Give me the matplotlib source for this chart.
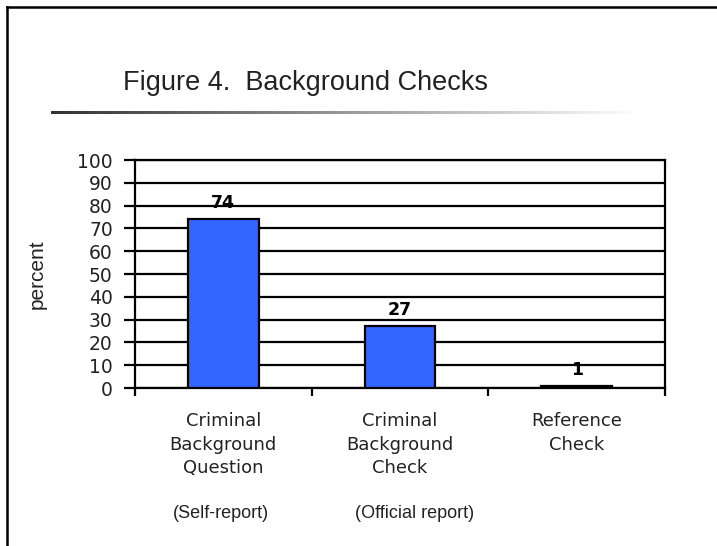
"""Figure 4 - background checks bar chart."""

import matplotlib
matplotlib.use("Agg")
import matplotlib.pyplot as plt
import numpy as np
from matplotlib.lines import Line2D

categories = ["Criminal\nBackground\nQuestion", "Criminal\nBackground\nCheck", "Reference\nCheck"]
sublabels = ["(Self-report)", "(Official report)", ""]
percent = [74, 27, 1]
yticks = list(range(0, 101, 10))

W, H = 717, 546
plt.rcParams["font.family"] = ["DejaVu Sans"]
NARROW = ["Liberation Sans", "DejaVu Sans"]

fig = plt.figure(figsize=(W / 100, H / 100), dpi=100)
ax = fig.add_axes([135 / W, 1 - 388 / H, 530 / W, 228 / H])

x = np.arange(len(categories))
ax.bar(x, percent, width=0.4, color="#3366ff", edgecolor="black", linewidth=1.6, zorder=3)
for xi, v in zip(x, percent):
    ax.annotate(str(v), (xi, v), xytext=(0, 8), textcoords="offset points",
                ha="center", va="baseline", fontsize=12.5, fontweight="bold")

ax.set_xlim(-0.5, len(categories) - 0.5)
ax.set_ylim(0, 100)
ax.set_yticks(yticks)
ax.yaxis.grid(True, color="black", linewidth=1.6, zorder=0)
ax.set_axisbelow(True)
ax.set_xticks(np.arange(-0.5, len(categories), 1.0))
ax.set_xticklabels([])
ax.tick_params(axis="x", direction="out", length=6, width=1.6)
ax.tick_params(axis="y", direction="out", length=8, width=1.6, labelsize=13.5, pad=8,
               labelcolor="#222222")
for side in ax.spines.values():
    side.set_linewidth(1.6)
ax.set_ylabel("percent", fontsize=15, family=NARROW, color="#222222")
ax.yaxis.set_label_coords((47 - 135) / 530, 0.5)

for xi, lab, sub, dx in zip(x, categories, sublabels, [-2, 15, 0]):
    ax.annotate(lab, (xi, 0), xycoords=("data", "axes fraction"), xytext=(0, -24),
                textcoords="offset pixels", ha="center", va="top",
                fontsize=13, linespacing=1.4, color="#222222")
    if sub:
        ax.annotate(sub, (xi, 0), xycoords=("data", "axes fraction"), xytext=(dx, -125),
                    textcoords="offset pixels", ha="center", va="center",
                    fontsize=13, family=NARROW, color="#222222")

fig.text(123 / W, 1 - 90 / H, "Figure 4.  Background Checks", fontsize=19.5,
         family=NARROW, ha="left", va="baseline", color="#222222")

# fading rule under the title
rule = fig.add_axes([51 / W, 1 - 114 / H, 1 - 51 / W, 3 / H])
rule.axis("off")
ramp = np.clip(np.linspace(0.2, 1.1, 512), 0, 1)[None, :]
rule.imshow(ramp, cmap="gray", vmin=0, vmax=1, aspect="auto", interpolation="bilinear")

# frame lines
fig.add_artist(Line2D([7 / W, 7 / W], [0, 1 - 7 / H], color="black", linewidth=1.8,
                      transform=fig.transFigure))
fig.add_artist(Line2D([7 / W, 1], [1 - 7 / H, 1 - 7 / H], color="black", linewidth=1.8,
                      transform=fig.transFigure))

fig.savefig("out.png", dpi=100)
